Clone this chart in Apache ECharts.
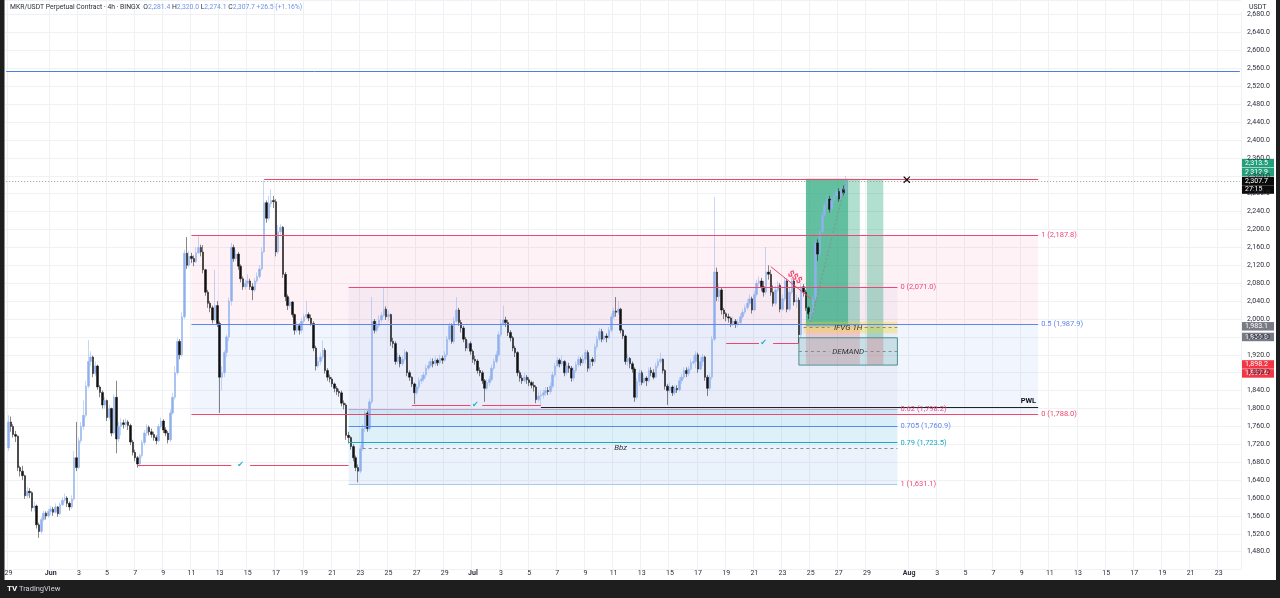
<!DOCTYPE html>
<html><head><meta charset="utf-8">
<script src="https://cdn.jsdelivr.net/npm/echarts@6/dist/echarts.min.js"></script>
<style>html,body{margin:0;padding:0;background:#fff;overflow:hidden}#c{width:1280px;height:598px}</style>
</head><body><div id="c"></div>
<script>
// ---------- DATA (4h candles, MKR/USDT, May 29 00:00 -> Jul 27 12:00) ----------
const firstOpen = 1712;
const closes = [
1770,1760,1742,1738,1668,1660, 1650,1605,1615,1612,1578,1582, 1540,1525,1552,1566,1560,1570,
1575,1568,1580,1565,1585,1595, 1600,1588,1580,1598,1690,1668, 1728,1760,1785,1850,1905,1915,
1878,1895,1848,1836,1808,1818, 1780,1800,1745,1825,1732,1760, 1768,1764,1770,1762,1725,1702,
1690,1676,1695,1724,1745,1758, 1748,1742,1735,1728,1760,1772, 1752,1745,1730,1790,1825,1880,
1950,1920,2005,2147,2120,2140, 2135,2128,2148,2160,2150,2110, 2060,2035,2025,1998,2030,1990,
1870,1880,1925,1960,2040,2160, 2135,2145,2118,2090,2072,2080, 2085,2072,2065,2085,2095,2112,
2150,2260,2225,2258,2265,2262, 2150,2195,2205,2100,2050,2030, 2038,2010,1975,1985,1975,1995,
2005,2010,2002,1990,1935,1895, 1905,1915,1930,1885,1870,1866, 1855,1845,1838,1835,1812,1808,
1740,1735,1715,1690,1668,1660, 1710,1755,1790,1755,1815,1995, 1975,1985,1998,2008,2022,2005,
2010,1950,1945,1905,1915,1900, 1910,1925,1880,1870,1855,1835, 1848,1862,1866,1875,1890,1896,
1905,1900,1908,1902,1912,1908, 1920,1955,1985,1950,1995,2020, 1992,1980,1955,1935,1945,1928,
1910,1906,1885,1880,1862,1845, 1858,1865,1890,1905,1920,1965, 1990,1998,1992,1970,1958,1935,
1925,1880,1868,1862,1870,1864, 1858,1852,1848,1820,1828,1830, 1835,1840,1838,1850,1875,1895,
1908,1900,1905,1880,1895,1890, 1868,1885,1898,1910,1902,1910, 1925,1890,1910,1905,1938,1955,
1972,1955,1962,1958,1975,2005, 2018,2015,2022,1975,1962,1905, 1912,1900,1888,1825,1860,1880,
1858,1868,1862,1885,1880,1870, 1895,1905,1910,1885,1850,1840, 1848,1835,1845,1842,1862,1870,
1885,1878,1888,1902,1905,1920, 1888,1905,1915,1870,1845,1870, 1955,2105,2050,2065,2020,2012,
2005,2002,1990,1995,1988,1992, 2005,2015,2025,2035,2045,2020, 2055,2080,2085,2072,2060,2105,
2100,2060,2035,2065,2075,2022, 2045,2085,2022,2060,2085,2038, 2042,1965,2072,2060,2025,2012,
2015,2045,2170,2145,2195,2232, 2255,2268,2245,2265,2275,2285, 2268,2290,2281.4,2307.7
];
const highs = [
1785,1782,1765,1750,1740,1672, 1672,1652,1625,1622,1615,1592, 1585,1545,1558,1572,1570,1576,
1582,1580,1588,1582,1590,1602, 1610,1604,1592,1606,1705,1770, 1735,1770,1818,1862,1953,1928,
1918,1905,1898,1852,1840,1826, 1820,1808,1802,1832,1862,1770, 1778,1775,1778,1774,1766,1730,
1708,1694,1700,1730,1752,1765, 1762,1755,1748,1740,1766,1780, 1776,1758,1750,1798,1835,1895,
1958,1955,2015,2155,2183,2152, 2148,2142,2160,2185,2166,2165, 2112,2065,2040,2030,2110,2040,
1995,1895,1930,1965,2048,2170, 2166,2155,2150,2122,2095,2088, 2100,2090,2080,2092,2104,2120,
2160,2310,2265,2275,2290,2275, 2268,2210,2212,2208,2105,2055, 2048,2040,2012,1995,1990,2002,
2012,2040,2015,2010,1995,1940, 1915,1925,1952,1935,1890,1876, 1870,1858,1850,1844,1840,1818,
1812,1748,1738,1720,1695,1675, 1718,1765,1800,1795,1822,2049, 2000,1995,2008,2015,2069,2028,
2018,2012,1958,1950,1925,1920, 1918,1932,1928,1885,1872,1858, 1855,1870,1875,1882,1898,1905,
1912,1912,1916,1912,1920,1918, 1928,1962,1992,1990,2005,2049, 2025,1998,1985,1960,1952,1950,
1932,1918,1910,1892,1885,1866, 1865,1872,1898,1912,1928,1972, 2000,2030,2005,1998,1975,1962,
1940,1928,1885,1875,1880,1875, 1870,1862,1860,1852,1838,1840, 1842,1848,1848,1858,1882,1902,
1915,1912,1918,1908,1902,1902, 1895,1892,1905,1918,1915,1920, 1932,1930,1918,1915,1945,1962,
1980,1978,1970,1968,1982,2012, 2025,2049,2040,2025,1978,1965, 1922,1915,1905,1892,1868,1888,
1885,1875,1872,1892,1892,1888, 1902,1912,1925,1912,1888,1855, 1858,1852,1852,1852,1870,1878,
1892,1892,1895,1910,1918,1928, 1925,1915,1922,1918,1875,1878, 1962,2273,2115,2078,2070,2025,
2015,2012,2005,2005,2000,2000, 2012,2022,2032,2045,2055,2050, 2062,2088,2095,2092,2085,2161,
2120,2110,2075,2075,2085,2080, 2055,2092,2090,2070,2092,2088, 2055,2048,2080,2078,2065,2028,
2022,2052,2180,2178,2200,2240, 2262,2278,2275,2272,2282,2292, 2292,2298,2298,2320
];
const lows = [
1705,1748,1735,1725,1660,1648, 1640,1598,1600,1600,1570,1570, 1532,1511,1520,1548,1552,1556,
1562,1560,1565,1558,1562,1582, 1590,1580,1572,1576,1594,1660, 1665,1722,1752,1780,1845,1895,
1870,1872,1842,1825,1800,1800, 1772,1775,1738,1742,1700,1725, 1740,1755,1758,1752,1718,1695,
1682,1668,1670,1690,1718,1738, 1740,1735,1728,1720,1725,1755, 1745,1738,1722,1725,1786,1820,
1875,1910,1915,2000,2112,2115, 2125,2118,2125,2145,2140,2102, 2052,2025,2015,1990,1995,1982,
1790,1840,1870,1915,1950,2030, 2128,2130,2110,2082,2065,2066, 2072,2065,2042,2060,2080,2090,
2108,2148,2215,2220,2250,2248, 2140,2145,2185,2092,2040,2020, 2025,2004,1965,1970,1965,1968,
1990,2000,1995,1985,1928,1885, 1890,1898,1910,1878,1862,1858, 1848,1836,1830,1826,1805,1798,
1730,1722,1708,1682,1660,1635, 1655,1705,1748,1748,1750,1810, 1968,1970,1980,1992,2005,1998,
1995,1940,1935,1898,1900,1892, 1895,1905,1872,1862,1848,1810, 1830,1842,1855,1860,1868,1885,
1892,1892,1895,1895,1898,1900, 1905,1915,1950,1945,1945,1992, 1985,1970,1948,1928,1930,1920,
1902,1898,1878,1872,1855,1815, 1840,1850,1860,1885,1900,1915, 1960,1985,1982,1962,1950,1928,
1915,1872,1860,1855,1858,1855, 1850,1845,1838,1812,1815,1808, 1822,1828,1830,1832,1845,1870,
1892,1892,1895,1872,1875,1880, 1860,1862,1880,1892,1895,1898, 1900,1882,1885,1895,1900,1932,
1950,1948,1950,1948,1955,1970, 2000,2005,2010,1968,1955,1898, 1895,1890,1880,1815,1820,1850,
1852,1855,1850,1858,1872,1865, 1868,1890,1900,1878,1842,1808, 1835,1828,1830,1835,1838,1855,
1865,1870,1872,1885,1898,1890, 1880,1885,1895,1862,1828,1840, 1865,1950,2040,2040,2010,2000,
1995,1992,1982,1985,1980,1982, 1988,2000,2010,2020,2030,2012, 2018,2050,2072,2062,2050,2055,
2088,2052,2028,2030,2060,2015, 2018,2040,2015,2018,2055,2030, 2025,1946,1960,2050,2018,2000,
1981,2005,2040,2130,2140,2190, 2228,2250,2238,2240,2258,2270, 2262,2265,2276,2274.1
];
// axis
const slotStartUTC = Date.UTC(2025, 4, 28, 20); // first (empty) 4h slot
const slotCount = 527;
const priceMin = 1440, priceMax = 2712.85, priceStep = 40;
const monthNames = ['Jan','Feb','Mar','Apr','May','Jun','Jul','Aug','Sep','Oct','Nov','Dec'];
// drawings (dates as MM-DD HH, prices)
const blueLevel = 2554;
const lastPrice = 2307.7;
const topLine = ['06-16 04', '08-10 04', 2312.5];
const fibARange = ['06-11 00', '08-10 04'];
const fibALevels = [[1, 2187.8], [0.5, 1987.9], [0, 1788.0]];
const fibBRange = ['06-22 04', '07-31 04'];
const fibBLevels = [[0, 2071.0], [0.62, 1798.2], [0.705, 1760.9], [0.79, 1723.5], [1, 1631.1]];
const pwl = ['07-05 20', '08-10 04', 1802.5];
const sweptLows = [ // [start, gapStart, check, gapEnd, end, price]
  ['06-07 04', '06-13 20', '06-14 12', '06-15 04', '06-22 04', 1674],
  ['06-26 16', '06-30 20', '07-01 04', '07-01 16', '07-05 20', 1808],
  ['07-19 00', '07-21 08', '07-21 16', '07-22 08', '07-24 04', 1946]
];
// dashed zone lines: [start, gapStart, labelAt, gapEnd, end, price, text]
const zoneLines = [
  ['06-23 04', '07-10 16', '07-11 12', '07-12 08', '07-31 04', 1712, 'Bbz'],
  ['07-24 12', '07-26 08', '07-27 16', '07-28 20', '07-31 04', 1981, 'IFVG 1H'],
  ['07-24 04', '07-26 08', '07-27 16', '07-28 20', '07-31 04', 1927, 'DEMAND']
];
const ifvgBox = ['07-24 12', '07-31 04', 1994, 1968];
const demandBox = ['07-24 04', '07-31 04', 1958, 1897];
const posA = ['07-24 16', '07-27 16', '07-28 12', 1983.1, 2313.5, 1898.2];
const posB = ['07-29 00', '07-30 04', 1959.3, 2312.9, 1897.6];
const sssLine = [['07-22 04', 2117], ['07-25 00', 2046]];
const pathLine = [['07-25 00', 1993], ['07-27 12', 2306]];
const xMark = ['07-31 20', 2309];

// ---------- BUILD ----------
const pad = n => String(n).padStart(2, '0');
const cats = [];
for (let k = 0; k < slotCount; k++) {
  const d = new Date(slotStartUTC + k * 4 * 3600e3);
  cats.push(pad(d.getUTCMonth() + 1) + '-' + pad(d.getUTCDate()) + ' ' + pad(d.getUTCHours()));
}
const candles = ['-'];
for (let k = 0; k < closes.length; k++) {
  const o = k ? closes[k - 1] : firstOpen, c = closes[k];
  candles.push([o, c, Math.min(lows[k], o, c), Math.max(highs[k], o, c)]);
}
const showTick = (i, v) => {
  const dd = +v.slice(3, 5), hh = +v.slice(6, 8);
  return hh === 0 && dd % 2 === 1 && dd !== 31;
};
const fmt = v => v.toLocaleString('en-US', {minimumFractionDigits: 1, maximumFractionDigits: 1});

const FONT = 'Roboto, "DejaVu Sans", sans-serif';
const PINK = '#ec4775', BLUE = '#5f86ec', TEAL = '#14a9c4', RED = '#f0466c';
const seg = (a, b, style, label) => [
  {coord: a, lineStyle: style, label: label || {show: false}}, {coord: b}
];
const endLabel = (txt, color) => ({show: true, position: 'end', formatter: txt, color, fontSize: 7.5, fontFamily: FONT, distance: 3});

const areas = [];
const lines = [];
// Fib A
areas.push([{coord: [fibARange[0], fibALevels[0][1]], itemStyle: {color: 'rgba(233,30,99,0.06)'}}, {coord: [fibARange[1], fibALevels[1][1]]}]);
areas.push([{coord: [fibARange[0], fibALevels[1][1]], itemStyle: {color: 'rgba(60,110,240,0.07)'}}, {coord: [fibARange[1], fibALevels[2][1]]}]);
const fibAColors = [PINK, BLUE, RED];
fibALevels.forEach((l, i) => lines.push(seg([fibARange[0], l[1]], [fibARange[1], l[1]],
  {color: fibAColors[i], width: 1, type: 'solid'}, endLabel(l[0] + ' (' + fmt(l[1]) + ')', fibAColors[i]))));
// Fib B
const fibBFill = ['rgba(120,110,170,0.06)', 'rgba(60,170,220,0.20)', 'rgba(60,170,220,0.17)', 'rgba(90,160,230,0.13)'];
for (let i = 0; i < fibBLevels.length - 1; i++) {
  areas.push([{coord: [fibBRange[0], fibBLevels[i][1]], itemStyle: {color: fibBFill[i]}}, {coord: [fibBRange[1], fibBLevels[i + 1][1]]}]);
}
const fibBColors = [PINK, PINK, BLUE, TEAL, PINK];
const fibBLineColors = [PINK, '#c4a2c4', BLUE, TEAL, '#a9c9ea'];
fibBLevels.forEach((l, i) => lines.push(seg([fibBRange[0], l[1]], [fibBRange[1], l[1]],
  {color: fibBLineColors[i], width: 1, type: 'solid'}, endLabel(l[0] + ' (' + fmt(l[1]) + ')', fibBColors[i]))));
// position boxes
areas.push([{coord: [posA[0], posA[4]], itemStyle: {color: 'rgba(38,166,124,0.72)'}}, {coord: [posA[1], posA[3]]}]);
areas.push([{coord: [posA[1], posA[4]], itemStyle: {color: 'rgba(38,166,124,0.36)'}}, {coord: [posA[2], posA[3]]}]);
areas.push([{coord: [posA[0], posA[3]], itemStyle: {color: 'rgba(242,54,69,0.20)'}}, {coord: [posA[2], posA[5]]}]);
areas.push([{coord: [posB[0], posB[3]], itemStyle: {color: 'rgba(38,166,124,0.36)'}}, {coord: [posB[1], posB[2]]}]);
areas.push([{coord: [posB[0], posB[2]], itemStyle: {color: 'rgba(242,54,69,0.25)'}}, {coord: [posB[1], posB[4]]}]);
// IFVG & DEMAND boxes
areas.push([{coord: [ifvgBox[0], ifvgBox[2]], itemStyle: {color: 'rgba(255,214,0,0.30)'}}, {coord: [ifvgBox[1], ifvgBox[3]]}]);
areas.push([{coord: [demandBox[0], demandBox[2]], itemStyle: {color: 'rgba(0,150,136,0.14)', borderColor: '#4f8f8c', borderWidth: 1}}, {coord: [demandBox[1], demandBox[3]]}]);
const points = [];
const textPoint = (coord, txt, lab) => ({coord, symbol: 'rect', symbolSize: 1, itemStyle: {color: 'rgba(0,0,0,0)'},
  label: Object.assign({show: true, position: 'inside', formatter: txt}, lab)});
zoneLines.forEach(z => {
  lines.push(seg([z[0], z[5]], [z[1], z[5]], {color: '#8a8a8a', width: 1, type: [3, 3]}));
  lines.push(seg([z[3], z[5]], [z[4], z[5]], {color: '#8a8a8a', width: 1, type: [3, 3]}));
  points.push(textPoint([z[2], z[5]], z[6], {color: '#333', fontSize: 8, fontStyle: 'italic', fontFamily: FONT}));
});
// horizontal lines
lines.push([{coord: [cats[0], blueLevel], lineStyle: {color: '#4f7fe6', width: 1, type: 'solid'}, label: {show: false}}, {coord: [cats[slotCount - 1], blueLevel]}]);
lines.push([{coord: [cats[0], lastPrice], lineStyle: {color: '#9a9a9a', width: 1, type: [1, 2]}, label: {show: false}}, {coord: [cats[slotCount - 1], lastPrice]}]);
lines.push(seg([topLine[0], topLine[2]], [topLine[1], topLine[2]], {color: RED, width: 1, type: 'solid'}));
lines.push(seg([pwl[0], pwl[2]], [pwl[1], pwl[2]], {color: '#222', width: 1, type: 'solid'},
  {show: true, position: 'insideEndTop', formatter: 'PWL', color: '#111', fontSize: 7.5, fontWeight: 'bold', fontFamily: FONT, distance: 2}));
sweptLows.forEach(s => {
  lines.push(seg([s[0], s[5]], [s[1], s[5]], {color: RED, width: 1, type: 'solid'}));
  lines.push(seg([s[3], s[5]], [s[4], s[5]], {color: RED, width: 1, type: 'solid'}));
  points.push(textPoint([s[2], s[5]], '✔', {color: '#26b0c9', fontSize: 8, fontFamily: '"DejaVu Sans"'}));
});
lines.push(seg(sssLine[0], sssLine[1], {color: RED, width: 1, type: 'solid'},
  {show: true, position: 'middle', formatter: '$$$', color: RED, fontSize: 9, fontWeight: 'bold', fontFamily: FONT, distance: 2}));
lines.push(seg(pathLine[0], pathLine[1], {color: '#8d8d8d', width: 1, type: [2, 2]}));
points.push(textPoint(xMark, '✕', {color: '#000', fontSize: 12, fontWeight: 'bold', fontFamily: '"DejaVu Sans"'}));

const chart = echarts.init(document.getElementById('c'), null, {renderer: 'canvas'});
chart.setOption({
  animation: false,
  backgroundColor: '#ffffff',
  grid: {left: 5, right: 39, top: 0, bottom: 28.4, containLabel: false},
  xAxis: {
    type: 'category', data: cats, boundaryGap: true,
    axisLine: {show: false}, axisTick: {show: false},
    axisLabel: {
      interval: showTick, margin: 0, fontSize: 7, color: '#2a2e39', fontFamily: FONT,
      formatter: v => { const dd = +v.slice(3, 5); return dd === 1 ? '{b|' + monthNames[+v.slice(0, 2) - 1] + '}' : String(dd); },
      rich: {b: {fontWeight: 'bold', fontSize: 7, color: '#2a2e39', fontFamily: FONT}}
    },
    splitLine: {show: true, interval: showTick, lineStyle: {color: '#f0f1f4', width: 1}}
  },
  yAxis: {
    type: 'value', position: 'right', min: priceMin, max: priceMax, interval: priceStep, scale: true,
    axisLine: {show: false}, axisTick: {show: false},
    axisLabel: {margin: 6, fontSize: 7, color: '#2a2e39', fontFamily: FONT, showMaxLabel: false,
      formatter: v => (v <= priceMin || v > 2680 || v % priceStep !== 0) ? '' : fmt(v)},
    splitLine: {show: true, lineStyle: {color: '#f0f1f4', width: 1}}
  },
  series: [
    {type: 'line', name: 'drawings', data: [], z: 1, silent: true,
      markArea: {silent: true, data: areas, label: {show: false}},
      markLine: {silent: true, symbol: ['none', 'none'], data: lines, animation: false}},
    {type: 'candlestick', name: 'MKR', data: candles, z: 3, barWidth: 2,
      itemStyle: {color: '#8fb0ee', color0: '#111111', borderColor: '#8fb0ee', borderColor0: '#111111', borderWidth: 0.5}},
    {type: 'line', name: 'marks', data: [], z: 5, silent: true,
      markPoint: {silent: true, data: points, animation: false}}
  ]
});

// price tags on the right axis (stacked like the original)
const py = p => chart.convertToPixel({yAxisIndex: 0}, p);
const tag = (y, text, bg, h) => ({type: 'group', children: [
  {type: 'rect', shape: {x: 1242, y: y, width: 32, height: h || 8.5}, style: {fill: bg}},
  {type: 'text', style: {x: 1245, y: y + (h || 8.5) / 2, text: text, fill: '#fff', font: '7px ' + FONT, textVerticalAlign: 'middle'}}
]});
const yc = py(lastPrice);
const yg = py(1959.3), yr = py(1897.9), ye = py(1983.1);
const graphics = [
  {type: 'rect', shape: {x: 0, y: 0, width: 4.5, height: 598}, style: {fill: '#1e1e1e'}},
  {type: 'rect', shape: {x: 1276, y: 0, width: 4, height: 598}, style: {fill: '#1e1e1e'}},
  {type: 'rect', shape: {x: 0, y: 580, width: 1280, height: 18}, style: {fill: '#1e1e1e'}},
  {type: 'text', style: {x: 7, y: 589, text: 'TV', fill: '#ffffff', font: 'bold 8px ' + FONT, textVerticalAlign: 'middle'}},
  {type: 'text', style: {x: 19, y: 589, text: 'TradingView', fill: '#d1d4dc', font: '7.5px ' + FONT, textVerticalAlign: 'middle'}},
  {type: 'rect', shape: {x: 1241, y: 0, width: 35, height: 12}, style: {fill: '#fff'}},
  {type: 'text', style: {x: 1249, y: 7, text: 'USDT', fill: '#2a2e39', font: '7px ' + FONT, textVerticalAlign: 'middle'}},
  {type: 'text', style: {x: 10, y: 7.5, textVerticalAlign: 'middle', font: '6.8px ' + FONT,
    text: '{t|MKR/USDT Perpetual Contract · 4h · BINGX  }{t|O}{v|2,281.4 }{t|H}{v|2,320.0 }{t|L}{v|2,274.1 }{t|C}{v|2,307.7 }{v|+26.5 (+1.16%)}',
    rich: {t: {fill: '#2a2e39', font: '6.8px ' + FONT}, v: {fill: '#6f93e6', font: '6.8px ' + FONT}}}},
  tag(yc - 22.5, '2,313.5', '#22a07c'),
  tag(yc - 13.5, '2,312.9', '#22a07c'),
  tag(yc - 4.5, '2,307.7', '#0b0b0b'),
  tag(yc + 4, '27:15', '#0b0b0b'),
  tag(ye - 4.5, '1,983.1', '#787b86'),
  tag(yg - 4.5, '1,959.3', '#787b86'),
  tag(yr - 4.5, '1,898.2', '#f23645'),
  tag(yr + 4.5, '1,897.6', '#f23645')
];
chart.setOption({graphic: graphics});
</script>
</body></html>
